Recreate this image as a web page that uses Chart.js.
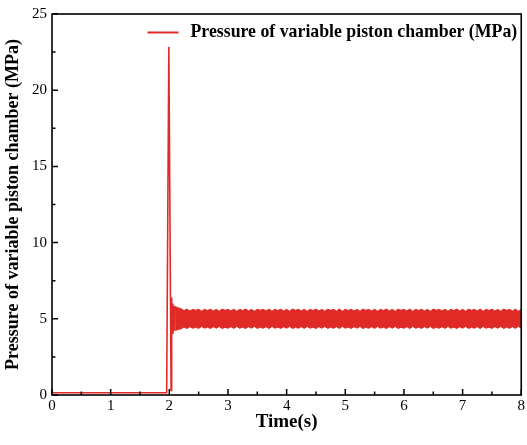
<!DOCTYPE html>
<html>
<head>
<meta charset="utf-8">
<script src="https://cdn.jsdelivr.net/npm/chart.js@4.4.1/dist/chart.umd.min.js"></script>
<style>
html, body { margin: 0; padding: 0; background: #fff; }
#wrap { width: 527px; height: 445px; }
</style>
</head>
<body>
<div id="wrap"><canvas id="pressureChart"></canvas></div>
<script>
// pressure trace: flat start, the spike near 2 s and the first transient swings
const traceTime = [0, 1.955, 1.992, 2.03, 2.04, 2.05, 2.06, 2.07, 2.08, 2.09, 2.1];
const tracePressure = [0.15, 0.15, 22.85, 0.3, 6.4, 4.05, 6.0, 4.15, 5.85, 4.25, 5.75];

// steady oscillation band after the transient, read every 0.05 s from 2.1 s to 8 s
const bandStart = 2.1;
const bandStep = 0.05;
const bandUpper = [5.80, 5.72, 5.66, 5.54, 5.64, 5.52, 5.62, 5.56, 5.63, 5.5,
                   5.62, 5.55, 5.63, 5.52, 5.62, 5.5, 5.64, 5.56, 5.62, 5.52,
                   5.63, 5.5, 5.62, 5.55, 5.64, 5.52, 5.62, 5.5, 5.63, 5.56,
                   5.62, 5.52, 5.64, 5.5, 5.62, 5.55, 5.63, 5.52, 5.62, 5.5,
                   5.64, 5.56, 5.62, 5.52, 5.63, 5.5, 5.62, 5.55, 5.64, 5.52,
                   5.62, 5.5, 5.63, 5.56, 5.62, 5.52, 5.64, 5.5, 5.62, 5.55,
                   5.63, 5.52, 5.62, 5.5, 5.64, 5.56, 5.62, 5.52, 5.63, 5.5,
                   5.62, 5.55, 5.64, 5.52, 5.62, 5.5, 5.63, 5.56, 5.62, 5.52,
                   5.64, 5.5, 5.62, 5.55, 5.63, 5.52, 5.62, 5.5, 5.64, 5.56,
                   5.62, 5.52, 5.63, 5.5, 5.62, 5.55, 5.64, 5.52, 5.62, 5.5,
                   5.63, 5.56, 5.62, 5.52, 5.64, 5.5, 5.62, 5.55, 5.63, 5.52,
                   5.62, 5.5, 5.64, 5.56, 5.62, 5.52, 5.63, 5.5, 5.62];
const bandLower = [4.22, 4.3, 4.34, 4.46, 4.36, 4.48, 4.38, 4.44, 4.37, 4.5,
                   4.38, 4.45, 4.37, 4.48, 4.38, 4.5, 4.36, 4.44, 4.38, 4.48,
                   4.37, 4.5, 4.38, 4.45, 4.36, 4.48, 4.38, 4.5, 4.37, 4.44,
                   4.38, 4.48, 4.36, 4.5, 4.38, 4.45, 4.37, 4.48, 4.38, 4.5,
                   4.36, 4.44, 4.38, 4.48, 4.37, 4.5, 4.38, 4.45, 4.36, 4.48,
                   4.38, 4.5, 4.37, 4.44, 4.38, 4.48, 4.36, 4.5, 4.38, 4.45,
                   4.37, 4.48, 4.38, 4.5, 4.36, 4.44, 4.38, 4.48, 4.37, 4.5,
                   4.38, 4.45, 4.36, 4.48, 4.38, 4.5, 4.37, 4.44, 4.38, 4.48,
                   4.36, 4.5, 4.38, 4.45, 4.37, 4.48, 4.38, 4.5, 4.36, 4.44,
                   4.38, 4.48, 4.37, 4.5, 4.38, 4.45, 4.36, 4.48, 4.38, 4.5,
                   4.37, 4.44, 4.38, 4.48, 4.36, 4.5, 4.38, 4.45, 4.37, 4.48,
                   4.38, 4.5, 4.36, 4.44, 4.38, 4.48, 4.37, 4.5, 4.38];

const xMin = 0, xMax = 8, xStep = 1;
const yMin = 0, yMax = 25, yStep = 5;
const seriesLabel = "Pressure of variable piston chamber (MPa)";
const xTitle = "Time(s)";
const red = "rgb(224, 42, 38)";
const serif = "'Liberation Serif', 'Times New Roman', serif";

const tracePoints = traceTime.map((t, i) => ({ x: t, y: tracePressure[i] }));
const upperPoints = bandUpper.map((v, i) => ({ x: +(bandStart + i * bandStep).toFixed(3), y: v }));
const lowerPoints = bandLower.map((v, i) => ({ x: +(bandStart + i * bandStep).toFixed(3), y: v }));

// inward tick marks, frame box and the legend inside the plot
const framePlugin = {
    id: "frame",
    afterDatasetsDraw(chart) {
        const ctx = chart.ctx;
        const area = chart.chartArea;
        const xs = chart.scales.x;
        const ys = chart.scales.y;
        ctx.save();
        ctx.strokeStyle = "#000";
        ctx.lineWidth = 1.5;
        ctx.beginPath();
        for (let v = xMin; v <= xMax + 1e-9; v += xStep / 2) {
            const px = xs.getPixelForValue(v);
            const len = Math.abs(v % xStep) < 1e-9 ? 6 : 3.5;
            ctx.moveTo(px, area.bottom);
            ctx.lineTo(px, area.bottom - len);
        }
        for (let v = yMin; v <= yMax + 1e-9; v += yStep / 2) {
            const py = ys.getPixelForValue(v);
            const len = Math.abs(v % yStep) < 1e-9 ? 6 : 3.5;
            ctx.moveTo(area.left, py);
            ctx.lineTo(area.left + len, py);
        }
        ctx.stroke();
        ctx.lineWidth = 1.6;
        ctx.strokeRect(area.left, area.top, area.right - area.left, area.bottom - area.top);

        // legend
        ctx.font = "bold 17.8px " + serif;
        ctx.textBaseline = "middle";
        ctx.textAlign = "right";
        ctx.fillStyle = "#000";
        const textRight = area.right - 4;
        const ly = area.top + 18;
        ctx.fillText(seriesLabel, textRight, ly);
        const textW = ctx.measureText(seriesLabel).width;
        const lineEnd = textRight - textW - 12;
        ctx.strokeStyle = red;
        ctx.lineWidth = 2;
        ctx.beginPath();
        ctx.moveTo(lineEnd - 31, ly + 0.5);
        ctx.lineTo(lineEnd, ly + 0.5);
        ctx.stroke();
        ctx.restore();
    }
};

new Chart("pressureChart", {
    type: "line",
    data: {
        datasets: [{
            label: seriesLabel,
            data: tracePoints,
            borderColor: red,
            backgroundColor: red,
            borderWidth: 1.6,
            pointRadius: 0,
            tension: 0,
            fill: false
        }, {
            label: "band upper",
            data: upperPoints,
            borderColor: red,
            borderWidth: 1,
            pointRadius: 0,
            tension: 0,
            fill: false
        }, {
            label: "band lower",
            data: lowerPoints,
            borderColor: red,
            backgroundColor: red,
            borderWidth: 1,
            pointRadius: 0,
            tension: 0,
            fill: "-1"
        }]
    },
    options: {
        responsive: true,
        maintainAspectRatio: false,
        animation: false,
        devicePixelRatio: 1,
        layout: { padding: { top: 12, right: 5, left: 0, bottom: 0 } },
        plugins: {
            legend: { display: false },
            tooltip: { enabled: false }
        },
        scales: {
            x: {
                type: "linear",
                min: xMin,
                max: xMax,
                grid: { display: false, drawTicks: false },
                border: { display: false },
                ticks: {
                    stepSize: xStep,
                    color: "#000",
                    padding: 2,
                    maxRotation: 0,
                    autoSkip: false,
                    font: { family: serif, size: 15 }
                },
                title: {
                    display: true,
                    text: xTitle,
                    color: "#000",
                    font: { family: serif, size: 19, weight: "bold" },
                    padding: { top: 0, bottom: 12 }
                },
                afterFit(scale) { scale.height = 50; }
            },
            y: {
                min: yMin,
                max: yMax,
                grid: { display: false, drawTicks: false },
                border: { display: false },
                ticks: {
                    stepSize: yStep,
                    color: "#000",
                    padding: 5,
                    font: { family: serif, size: 15 }
                },
                title: {
                    display: true,
                    text: seriesLabel,
                    color: "#000",
                    font: { family: serif, size: 18, weight: "bold" },
                    padding: { top: 3, bottom: 0 }
                },
                afterFit(scale) { scale.width = 52; }
            }
        }
    },
    plugins: [framePlugin]
});
</script>
</body>
</html>
